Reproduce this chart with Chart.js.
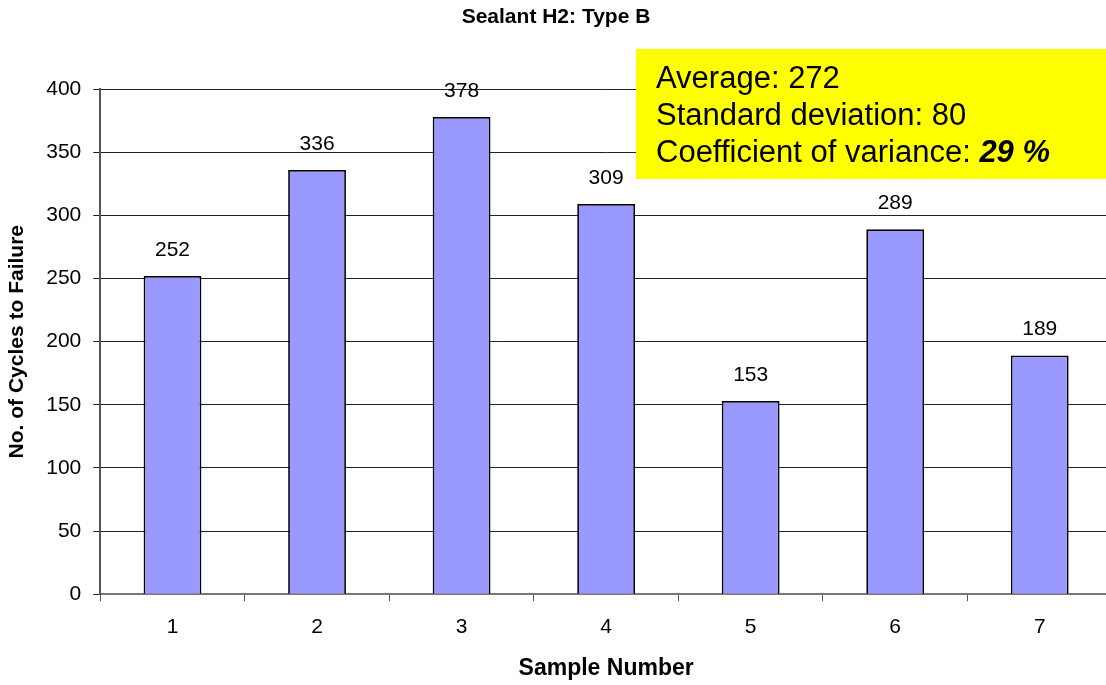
<!DOCTYPE html>
<html>
<head>
<meta charset="utf-8">
<script src="https://cdn.jsdelivr.net/npm/chart.js@4/dist/chart.umd.min.js"></script>
<style>
    html, body { margin: 0; padding: 0; background: #fff; overflow: hidden; }
    #wrap { width: 1112px; height: 685px; position: relative; }
</style>
</head>
<body>
<div id="wrap"><canvas id="grafico"></canvas></div>
<script>
// datos
const muestras = ['1', '2', '3', '4', '5', '6', '7'];
const ciclos = [252, 336, 378, 309, 153, 289, 189];
const resumen = ['Average: 272', 'Standard deviation: 80', 'Coefficient of variance: '];
const resumenNegrita = '29 %';

const fuente = "'Liberation Sans', Arial, sans-serif";

// etiquetas encima de cada barra
const etiquetasBarras = {
    id: 'etiquetasBarras',
    afterDatasetsDraw(chart) {
        const ctx = chart.ctx;
        const meta = chart.getDatasetMeta(0);
        ctx.save();
        ctx.font = '21px ' + fuente;
        ctx.fillStyle = '#000';
        ctx.textAlign = 'center';
        ctx.textBaseline = 'middle';
        meta.data.forEach((bar, i) => {
            ctx.fillText(ciclos[i], bar.x, bar.y - 26);
        });
        ctx.restore();
    }
};

// cuadro amarillo con estadísticas
const cuadroResumen = {
    id: 'cuadroResumen',
    afterDraw(chart) {
        const ctx = chart.ctx;
        ctx.save();
        ctx.fillStyle = '#ffff00';
        ctx.fillRect(636, 49, 476, 130);
        ctx.fillStyle = '#000';
        ctx.textBaseline = 'alphabetic';
        ctx.textAlign = 'left';
        ctx.font = '31px ' + fuente;
        const ys = [88, 125, 162];
        resumen.forEach((t, i) => ctx.fillText(t, 656, ys[i]));
        const w = ctx.measureText(resumen[2]).width;
        ctx.font = 'italic bold 31px ' + fuente;
        ctx.fillText(resumenNegrita, 656 + w, ys[2]);
        ctx.restore();
    }
};

new Chart(document.getElementById('grafico'), {
    type: 'bar',
    data: {
        labels: muestras,
        datasets: [{
            data: ciclos,
            backgroundColor: '#9999ff',
            borderColor: '#000',
            borderWidth: 1.75,
            categoryPercentage: 0.4,
            barPercentage: 1
        }]
    },
    options: {
        responsive: true,
        maintainAspectRatio: false,
        animation: false,
        layout: { padding: { top: 0, right: 0, left: 0, bottom: 1 } },
        plugins: {
            legend: { display: false },
            tooltip: { enabled: false },
            title: {
                display: true,
                text: 'Sealant H2: Type B',
                color: '#000',
                font: { family: fuente, size: 21, weight: 'bold' },
                padding: { top: 5, bottom: 59 }
            }
        },
        scales: {
            x: {
                grid: {
                    offset: true,
                    drawOnChartArea: false,
                    drawTicks: true,
                    tickLength: 7,
                    color: '#555'
                },
                border: { color: '#777', width: 2 },
                ticks: {
                    color: '#000',
                    font: { family: fuente, size: 21 },
                    padding: 13
                },
                title: {
                    display: true,
                    text: 'Sample Number',
                    color: '#000',
                    font: { family: fuente, size: 23, weight: 'bold' },
                    padding: { top: 2, bottom: 2 }
                }
            },
            y: {
                min: 0,
                max: 400,
                ticks: {
                    stepSize: 50,
                    color: '#000',
                    font: { family: fuente, size: 21 },
                    padding: 12
                },
                grid: {
                    color: '#222',
                    lineWidth: 1,
                    tickLength: 7
                },
                border: { color: '#555', width: 2 },
                title: {
                    display: true,
                    text: 'No. of Cycles to Failure',
                    color: '#000',
                    font: { family: fuente, size: 21, weight: 'bold' },
                    padding: { top: 5, bottom: 4 }
                }
            }
        }
    },
    plugins: [etiquetasBarras, cuadroResumen]
});
</script>
</body>
</html>
